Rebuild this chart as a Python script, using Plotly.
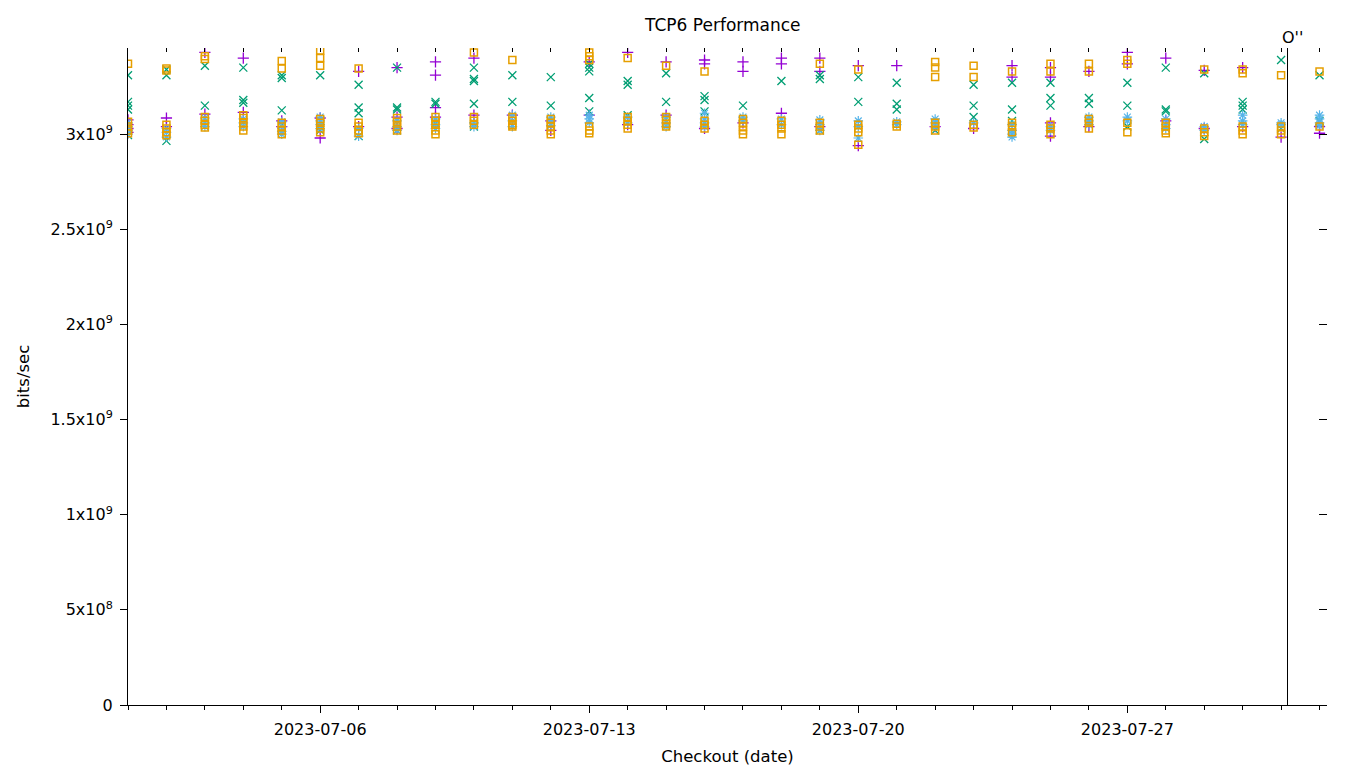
import plotly.graph_objects as go

# ---------------- data (values in units of 1e9 bits/sec) ----------------
dates = ['2023-07-01', '2023-07-02', '2023-07-03', '2023-07-04', '2023-07-05', '2023-07-06',
         '2023-07-07', '2023-07-08', '2023-07-09', '2023-07-10', '2023-07-11', '2023-07-12',
         '2023-07-13', '2023-07-14', '2023-07-15', '2023-07-16', '2023-07-17', '2023-07-18',
         '2023-07-19', '2023-07-20', '2023-07-21', '2023-07-22', '2023-07-23', '2023-07-24',
         '2023-07-25', '2023-07-26', '2023-07-27', '2023-07-28', '2023-07-29', '2023-07-30',
         '2023-07-31', '2023-08-01']

purple_vals = [
    [3.075, 3.05, 3.03, 3.01], [3.085, 3.04], [3.43, 3.105], [3.40, 3.115], [3.07, 3.04],
    [3.085, 2.98], [3.33, 3.04], [3.35, 3.09, 3.03], [3.38, 3.31, 3.14, 3.09], [3.40, 3.10],
    [3.10], [3.07, 3.02], [3.38, 3.10], [3.43, 3.05], [3.38, 3.10], [3.39, 3.37, 3.03],
    [3.38, 3.33, 3.06], [3.40, 3.37, 3.11], [3.40, 3.33, 3.04], [3.36, 2.94], [3.36],
    [3.04], [3.03], [3.36, 3.30], [3.35, 3.30, 3.06, 2.99], [3.33, 3.04], [3.43, 3.37],
    [3.40, 3.07], [3.335, 3.03], [3.35, 3.04], [2.985], [3.04, 3.005]]

green_vals = [
    [3.31, 3.17, 3.15, 3.13, 2.995], [3.31, 3.34, 2.965], [3.36, 3.15], [3.35, 3.18, 3.165],
    [3.31, 3.295, 3.125, 3.05], [3.31, 3.04, 3.02], [3.26, 3.14, 3.11, 2.99],
    [3.35, 3.14, 3.13, 3.02], [3.17, 3.16, 3.06], [3.35, 3.29, 3.28, 3.16, 3.04],
    [3.31, 3.17], [3.30, 3.15], [3.37, 3.35, 3.33, 3.19, 3.12], [3.28, 3.26, 3.10],
    [3.32, 3.17], [3.20, 3.18, 3.12], [3.15], [3.28], [3.31, 3.29, 3.02], [3.30, 3.17],
    [3.27, 3.16, 3.13], [3.02], [3.26, 3.15, 3.09], [3.27, 3.13, 3.07], [3.27, 3.19, 3.15],
    [3.19, 3.16, 3.07], [3.27, 3.15, 3.04], [3.35, 3.13, 3.12], [3.32, 2.975],
    [3.17, 3.15, 3.13], [3.39, 3.03], [3.31, 3.07]]

blue_vals = [
    [3.06, 3.04, 3.02, 3.0], [3.03, 3.01, 2.985], [3.085, 3.06, 3.04], [3.08, 3.06, 3.04],
    [3.065, 3.04, 3.015, 3.0], [3.09, 3.07, 3.05, 3.03], [3.03, 2.99], [3.07, 3.04, 3.02],
    [3.08, 3.05, 3.03], [3.06, 3.04], [3.10, 3.07, 3.04], [3.09, 3.07, 3.045],
    [3.10, 3.08, 3.06], [3.09, 3.06], [3.09, 3.06, 3.04], [3.11, 3.08, 3.06, 3.04],
    [3.09, 3.07], [3.08, 3.05], [3.075, 3.05, 3.02], [3.07, 3.04, 2.98], [3.065, 3.05],
    [3.08, 3.06, 3.04], [3.06], [3.05, 3.02, 3.00, 2.985], [3.04, 3.02], [3.09, 3.07, 3.05],
    [3.09, 3.07], [3.08, 3.05, 3.03], [3.04, 3.02], [3.10, 3.07, 3.05], [3.06, 3.05],
    [3.10, 3.08, 3.06, 3.045]]

orange_vals = [
    [3.37, 3.065, 3.04, 3.02, 3.005], [3.345, 3.335, 3.05, 3.03, 3.01, 2.995],
    [3.41, 3.395, 3.09, 3.07, 3.05, 3.035], [3.10, 3.085, 3.06, 3.04, 3.02],
    [3.385, 3.345, 3.06, 3.04, 3.02, 3.0], [3.44, 3.40, 3.36, 3.08, 3.06, 3.03, 3.01],
    [3.345, 3.06, 3.04, 3.02, 3.005], [3.085, 3.065, 3.04, 3.02], [3.09, 3.07, 3.05, 3.02, 3.0],
    [3.43, 3.09, 3.07, 3.05], [3.39, 3.09, 3.07, 3.05, 3.04], [3.08, 3.06, 3.04, 3.02, 3.0],
    [3.43, 3.41, 3.39, 3.04, 3.02, 3.005], [3.40, 3.09, 3.07, 3.05, 3.03],
    [3.36, 3.09, 3.075, 3.055, 3.04], [3.33, 3.07, 3.05, 3.03], [3.08, 3.06, 3.04, 3.02, 3.0],
    [3.07, 3.05, 3.03, 3.0], [3.37, 3.06, 3.04, 3.02], [3.34, 3.05, 3.03, 3.01, 2.945],
    [3.055, 3.04], [3.38, 3.35, 3.30, 3.06, 3.04, 3.02], [3.36, 3.30, 3.05, 3.035],
    [3.33, 3.06, 3.04, 3.01], [3.37, 3.33, 3.05, 3.03, 3.0], [3.37, 3.33, 3.08, 3.06, 3.03],
    [3.39, 3.37, 3.06, 3.01], [3.06, 3.04, 3.02, 3.005], [3.34, 3.03, 3.01, 2.99],
    [3.34, 3.32, 3.04, 3.02, 3.0], [3.31, 3.04, 3.02, 3.0], [3.33, 3.04]]

y_tick_vals = [0, 0.5e9, 1.0e9, 1.5e9, 2.0e9, 2.5e9, 3.0e9]
y_tick_text = ['0', '5x10<sup>8</sup>', '1x10<sup>9</sup>', '1.5x10<sup>9</sup>',
               '2x10<sup>9</sup>', '2.5x10<sup>9</sup>', '3x10<sup>9</sup>']
x_tick_vals = ['2023-07-06', '2023-07-13', '2023-07-20', '2023-07-27']

marker_date = '2023-07-31 04:00'
marker_label = "O''"

x_range = ['2023-07-01 00:00', '2023-08-01 04:40']
y_range = [0, 3.453e9]

# ---------------- figure ----------------
series = [
    ('purple', purple_vals, '#9400d3', 'cross-thin-open', 8, 1.3),
    ('green', green_vals, '#009e73', 'x-thin-open', 8, 1.3),
    ('blue', blue_vals, '#56b4e9', 'asterisk-open', 8, 1.2),
    ('orange', orange_vals, '#e69f00', 'square-open', 7, 1.5),
]

fig = go.Figure()
for name, vals, color, sym, size, lw in series:
    xs, ys = [], []
    for d, day_vals in zip(dates, vals):
        for v in day_vals:
            xs.append(d)
            ys.append(v * 1e9)
    fig.add_trace(go.Scatter(
        x=xs, y=ys, mode='markers', name=name, showlegend=False,
        marker=dict(symbol=sym, size=size, color=color,
                    line=dict(color=color, width=lw)),
    ))

# helper (empty) trace so the mirrored tick axes are drawn
fig.add_trace(go.Scatter(x=[], y=[], xaxis='x2', yaxis='y2', showlegend=False))

font = dict(family='DejaVu Sans', size=16, color='black')
title_font = dict(family='DejaVu Sans', size=16.5, color='black')

fig.update_layout(
    width=1360, height=768,
    margin=dict(l=128, r=33, t=48, b=63, autoexpand=False),
    plot_bgcolor='white', paper_bgcolor='white',
    font=font,
    title=dict(text='TCP6 Performance', x=0.5315, xanchor='center',
               y=0.967, yanchor='middle', yref='container',
               font=dict(family='DejaVu Sans', size=17, color='black')),
    xaxis=dict(
        type='date', range=x_range, automargin=False,
        tickmode='array', tickvals=x_tick_vals, tickformat='%Y-%m-%d',
        ticks='outside', ticklen=7, tickwidth=1, tickcolor='black',
        ticklabelstandoff=3,
        minor=dict(dtick=86400000, ticks='outside', ticklen=4, tickwidth=1,
                   tickcolor='black', showgrid=False),
        showline=True, linecolor='black', linewidth=1,
        showgrid=False, zeroline=False,
        title=dict(text='Checkout (date)', standoff=12, font=title_font),
        tickfont=font,
    ),
    yaxis=dict(
        range=y_range, automargin=False,
        tickmode='array', tickvals=y_tick_vals, ticktext=y_tick_text,
        ticks='outside', ticklen=7, tickwidth=1, tickcolor='black',
        ticklabelstandoff=4,
        showline=True, linecolor='black', linewidth=1,
        showgrid=False, zeroline=False,
        title=dict(text='bits/sec', standoff=16, font=title_font),
        tickfont=font,
    ),
    xaxis2=dict(
        type='date', range=x_range, overlaying='x', side='top', anchor='y',
        automargin=False,
        dtick=86400000, tick0='2023-07-01', ticks='inside', ticklen=4, tickwidth=1,
        tickcolor='black', showticklabels=False, showgrid=False, showline=False,
        zeroline=False,
    ),
    yaxis2=dict(
        range=y_range, overlaying='y', side='right', anchor='x', automargin=False,
        tickmode='array', tickvals=y_tick_vals, ticks='inside', ticklen=8,
        tickwidth=1, tickcolor='black', showticklabels=False, showgrid=False,
        showline=False, zeroline=False,
    ),
    shapes=[dict(type='line', xref='x', yref='paper', x0=marker_date, x1=marker_date,
                 y0=0, y1=1, line=dict(color='black', width=1))],
    annotations=[dict(text=marker_label, xref='x', yref='paper', x=marker_date, y=1,
                      xanchor='center', yanchor='bottom', xshift=5, yshift=-1,
                      showarrow=False,
                      font=dict(family='DejaVu Sans', size=16, color='black'))],
)

fig.write_html('out.html', config={'displayModeBar': False},
               post_script="document.body.style.margin='0';document.body.style.overflow='hidden';")
